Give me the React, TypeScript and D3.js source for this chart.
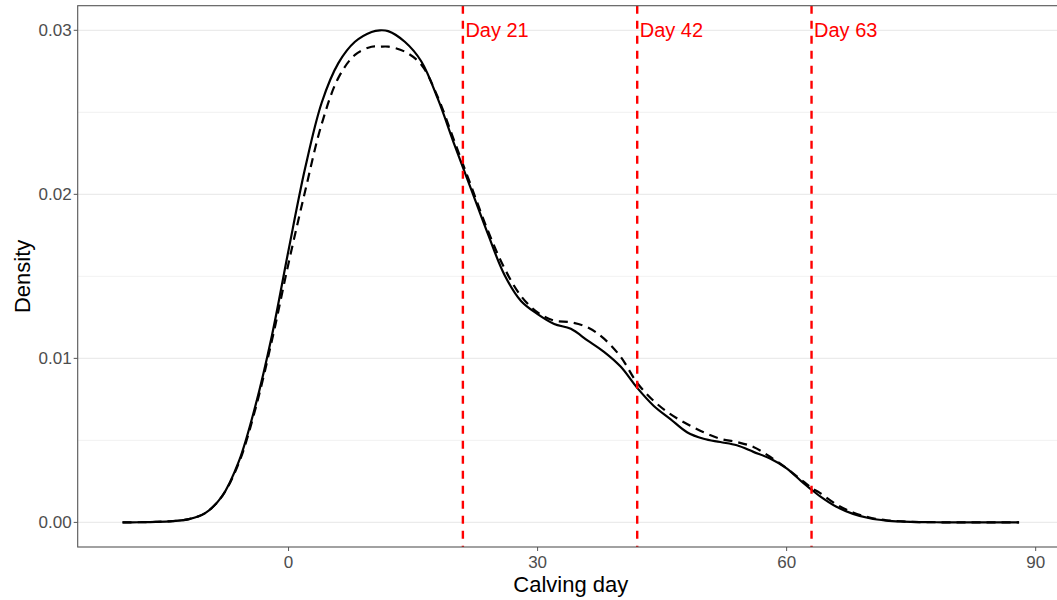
import React from "react";
import * as d3 from "d3";

// Calving day grid for the two density estimates
const days = [-20, -18, -16, -14, -12, -10, -8, -6, -4, -2, 0, 2, 4, 6, 8, 10, 11, 12, 14, 16, 18, 20, 22, 24, 26, 28, 30, 32, 34, 36, 38, 40, 42, 44, 46, 48, 50, 52, 54, 56, 58, 60, 62, 63, 64, 66, 68, 70, 72, 74, 76, 78, 80, 82, 84, 86, 88];

// Observed density (solid line)
const observed = [0, 0.00001, 0.00003, 0.00008, 0.0002, 0.00058, 0.0016, 0.0037, 0.0071, 0.0114, 0.0166, 0.0216, 0.0256, 0.028, 0.0293, 0.0299, 0.03, 0.02995, 0.0293, 0.0281, 0.0258, 0.023, 0.0203, 0.0176, 0.0151, 0.0135, 0.0127, 0.0121, 0.0118, 0.0111, 0.0104, 0.0095, 0.0082, 0.0071, 0.0063, 0.0055, 0.0051, 0.0049, 0.0047, 0.0043, 0.0039, 0.0033, 0.0024, 0.002, 0.0016, 0.00095, 0.00052, 0.00025, 0.00011, 0.00005, 0.00002, 0.00001, 0, 0, 0, 0, 0];

// Fitted density (dashed line)
const fitted = [0, 0.00001, 0.00003, 0.00008, 0.0002, 0.00058, 0.0016, 0.0036, 0.0069, 0.0111, 0.0158, 0.0202, 0.0243, 0.0271, 0.0285, 0.029, 0.029, 0.029, 0.0287, 0.0279, 0.0259, 0.0232, 0.0205, 0.0178, 0.0155, 0.0138, 0.0128, 0.0123, 0.0122, 0.0119, 0.0112, 0.0101, 0.0085, 0.0074, 0.0066, 0.006, 0.0055, 0.0051, 0.0049, 0.0046, 0.004, 0.0033, 0.0025, 0.0021, 0.0018, 0.0011, 0.0006, 0.0003, 0.00013, 0.00006, 0.00002, 0.00001, 0, 0, 0, 0, 0];

const xTicks = [0, 30, 60, 90];
const yTicks = [0, 0.01, 0.02, 0.03];
const yMinor = [0.005, 0.015, 0.025];
const cutoffs = [21, 42, 63];

const W = 1057;
const H = 600;
const panel = { left: 77.7, top: 5.7, bottom: 547 };

export default function App() {
  const x = d3.scaleLinear().domain([-25.4, 93.4]).range([panel.left, 1063.9]);
  const y = d3.scaleLinear().domain([-0.0015, 0.0315]).range([panel.bottom, panel.top]);

  const line = d3
    .line<number>()
    .x((_, i) => x(days[i]))
    .y((d) => y(d))
    .curve(d3.curveCatmullRom.alpha(0.5));

  const font = "Arial, 'Liberation Sans', sans-serif";
  const right = x.range()[1];

  return (
    <div style={{ position: "absolute", left: 0, top: 0 }}>
      <svg width={W} height={H} style={{ display: "block", background: "#fff" }}>
        <defs>
          <clipPath id="panel-clip">
            <rect x={panel.left} y={panel.top} width={right - panel.left} height={panel.bottom - panel.top} />
          </clipPath>
        </defs>

        {/* horizontal grid */}
        {yMinor.map((t) => (
          <line key={"m" + t} x1={panel.left} x2={right} y1={y(t)} y2={y(t)} stroke="#ebebeb" strokeWidth={0.7} />
        ))}
        {yTicks.map((t) => (
          <line key={"g" + t} x1={panel.left} x2={right} y1={y(t)} y2={y(t)} stroke="#ebebeb" strokeWidth={1.2} />
        ))}

        <g clipPath="url(#panel-clip)">
          <path d={line(observed) ?? ""} fill="none" stroke="#000" strokeWidth={2.2} strokeLinejoin="round" />
          <path d={line(fitted) ?? ""} fill="none" stroke="#000" strokeWidth={2.2} strokeDasharray="9,6" />

          {cutoffs.map((c) => (
            <line key={"v" + c} x1={x(c)} x2={x(c)} y1={panel.top} y2={panel.bottom} stroke="#ff0000" strokeWidth={2.4} strokeDasharray="8,7" />
          ))}
        </g>

        {cutoffs.map((c) => (
          <text key={"t" + c} x={x(c) + 2.5} y={y(0.03)} dy="0.35em" fill="#ff0000" fontSize={20} fontFamily={font}>
            {`Day ${c}`}
          </text>
        ))}

        {/* panel border */}
        <rect x={panel.left} y={panel.top} width={right - panel.left} height={panel.bottom - panel.top} fill="none" stroke="#555" strokeWidth={1.1} />

        {/* x axis */}
        {xTicks.map((t) => (
          <g key={"xt" + t}>
            <line x1={x(t)} x2={x(t)} y1={panel.bottom} y2={panel.bottom + 4} stroke="#555" strokeWidth={1} />
            <text x={x(t)} y={panel.bottom + 21} textAnchor="middle" fill="#4d4d4d" fontSize={17} fontFamily={font}>
              {t}
            </text>
          </g>
        ))}
        {/* y axis */}
        {yTicks.map((t) => (
          <g key={"yt" + t}>
            <line x1={panel.left - 4} x2={panel.left} y1={y(t)} y2={y(t)} stroke="#555" strokeWidth={1} />
            <text x={panel.left - 6} y={y(t)} dy="0.35em" textAnchor="end" fill="#4d4d4d" fontSize={17} fontFamily={font}>
              {t.toFixed(2)}
            </text>
          </g>
        ))}

        <text x={(panel.left + right) / 2} y={592} textAnchor="middle" fill="#000" fontSize={22} fontFamily={font}>
          Calving day
        </text>
        <text
          transform={`translate(30, ${(panel.top + panel.bottom) / 2}) rotate(-90)`}
          textAnchor="middle"
          fill="#000"
          fontSize={22}
          fontFamily={font}
        >
          Density
        </text>
      </svg>
    </div>
  );
}
